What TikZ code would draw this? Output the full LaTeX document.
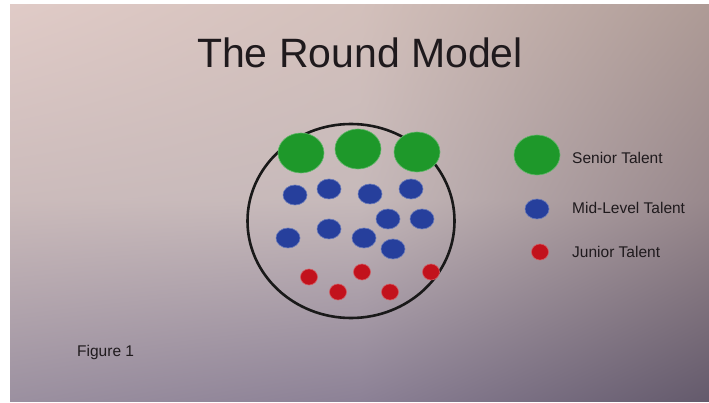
\documentclass[tikz,border=0pt]{standalone}
\usepackage{fontspec}
\setmainfont{Liberation Sans}
\usetikzlibrary{shapes.geometric,shadings}
\definecolor{tgreen}{HTML}{1E982A}
\definecolor{tblue}{HTML}{263F9C}
\definecolor{tred}{HTML}{C2121C}
\definecolor{ink}{HTML}{1F1A1D}
\definecolor{cA}{RGB}{224,203,199}
\definecolor{cB}{RGB}{211,192,187}
\definecolor{cC}{RGB}{174,155,150}
\definecolor{cD}{RGB}{203,187,187}
\definecolor{cE}{RGB}{198,185,186}
\definecolor{cF}{RGB}{152,136,140}
\definecolor{cG}{RGB}{155,144,160}
\definecolor{cH}{RGB}{140,129,150}
\definecolor{cI}{RGB}{100,90,108}
\tikzset{
  senior/.style={ellipse, fill=tgreen, draw=tgreen!70!white, line width=0.6pt, minimum width=46pt, minimum height=40pt, inner sep=0pt},
  mid/.style={ellipse, fill=tblue, draw=tblue!70!white, line width=0.6pt, minimum width=24pt, minimum height=20pt, inner sep=0pt},
  junior/.style={ellipse, fill=tred, draw=tred!70!white, line width=0.6pt, minimum width=17pt, minimum height=16pt, inner sep=0pt},
  legtext/.style={anchor=west, text=ink, font=\fontsize{15.5}{18}\selectfont, inner sep=0pt},
}
\begin{document}
\begin{tikzpicture}[x=1pt,y=-1pt]
\useasboundingbox (0,0) rectangle (709,403);
\fill[white] (0,0) rectangle (709,403);
% photographed slide background (four bilinear patches)
\shade[upper left=cA, upper right=cB, lower left=cD, lower right=cE] (10,5) rectangle (360.5,200.5);
\shade[upper left=cB, upper right=cC, lower left=cE, lower right=cF] (360,5) rectangle (709,200.5);
\shade[upper left=cD, upper right=cE, lower left=cG, lower right=cH] (10,200) rectangle (360.5,401);
\shade[upper left=cE, upper right=cF, lower left=cH, lower right=cI] (360,200) rectangle (709,401);
% title
\node[anchor=base, text=ink, font=\fontsize{41}{48}\selectfont, inner sep=0pt] (title) at (360,68) {The Round Model};
% big circle
\node[ellipse, draw=black!90, line width=2.6pt, minimum width=207pt, minimum height=194pt, inner sep=0pt] (outer) at (351,221) {};
% senior
\node[senior] (s1) at (301,153) {};
\node[senior] (s2) at (358,149) {};
\node[senior] (s3) at (417,152) {};
% mid
\node[mid] (m1) at (295,195) {};
\node[mid] (m2) at (329,189) {};
\node[mid] (m3) at (370,194) {};
\node[mid] (m4) at (411,189) {};
\node[mid] (m5) at (388,219) {};
\node[mid] (m6) at (422,219) {};
\node[mid] (m7) at (329,229) {};
\node[mid] (m8) at (288,238) {};
\node[mid] (m9) at (364,238) {};
\node[mid] (m10) at (393,249) {};
% junior
\node[junior] (j1) at (309,277) {};
\node[junior] (j2) at (362,272) {};
\node[junior] (j3) at (431,272) {};
\node[junior] (j4) at (338,292) {};
\node[junior] (j5) at (390,292) {};
% legend
\node[senior] (ls) at (537,155) {};
\node[mid] (lm) at (537,209) {};
\node[junior] (lj) at (540,252) {};
\node[legtext] (lst) at (572,158) {Senior Talent};
\node[legtext] (lmt) at (572,208) {Mid-Level Talent};
\node[legtext] (ljt) at (572,252) {Junior Talent};
% caption
\node[legtext] (fig) at (77,352) {Figure 1};
\end{tikzpicture}
\end{document}
